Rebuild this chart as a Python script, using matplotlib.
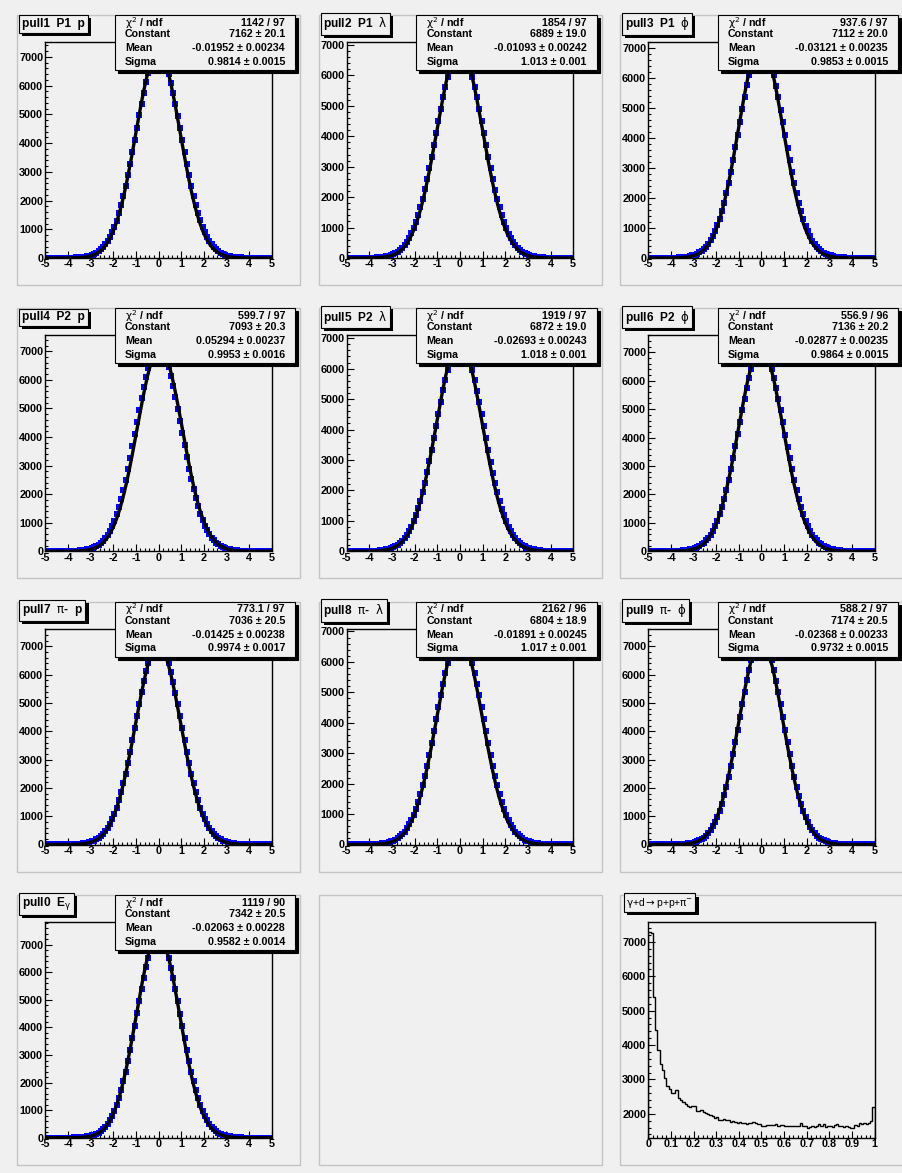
import numpy as np
import matplotlib.pyplot as plt
from matplotlib.patches import Rectangle
from matplotlib import patheffects
from matplotlib.ticker import MultipleLocator, FuncFormatter

W, H = 903, 1173
BG = "#f0f0f0"

plt.rcParams["font.family"] = ["Liberation Sans", "DejaVu Sans"]
plt.rcParams["font.weight"] = "bold"
plt.rcParams["axes.unicode_minus"] = False
# greek letters are drawn thin and upright, like the ROOT symbol font
plt.rcParams["mathtext.fontset"] = "custom"
plt.rcParams["mathtext.rm"] = "DejaVu Sans:weight=normal"
plt.rcParams["mathtext.sf"] = "DejaVu Sans:weight=normal"
plt.rcParams["mathtext.it"] = "DejaVu Sans:style=italic:weight=normal"
plt.rcParams["mathtext.bf"] = "DejaVu Sans:weight=bold"

# ---- data: pull histograms, 100 bins from -5 to 5 ----
pull1_counts = [
    1, 2, 2, 2, 3, 3, 4, 5, 6, 7,
    9, 11, 14, 18, 23, 30, 38, 50, 65, 85,
    110, 140, 185, 240, 300, 380, 470, 585, 725, 890,
    1081, 1305, 1559, 1845, 2162, 2508, 2881, 3276, 3690, 4114,
    4542, 4965, 5374, 5760, 6113, 6423, 6682, 6930, 7080, 7160,
    7140, 7060, 6910, 6670, 6400, 6095, 5745, 5360, 4950, 4530,
    4100, 3680, 3270, 2880, 2510, 2165, 1850, 1565, 1310, 1085,
    890, 725, 585, 470, 380, 300, 240, 185, 140, 110,
    85, 65, 50, 38, 30, 23, 18, 14, 11, 9,
    7, 6, 5, 4, 3, 3, 2, 2, 2, 1]
pull2_counts = [
    1, 1, 2, 2, 3, 3, 4, 5, 6, 7,
    9, 12, 15, 20, 27, 35, 46, 60, 78, 100,
    123, 160, 208, 267, 339, 427, 533, 659, 808, 982,
    1181, 1408, 1663, 1946, 2256, 2592, 2950, 3327, 3717, 4115,
    4513, 4905, 5281, 5635, 5956, 6238, 6473, 6630, 6720, 6760,
    6750, 6715, 6620, 6465, 6230, 5950, 5630, 5275, 4900, 4510,
    4110, 3710, 3320, 2945, 2590, 2250, 1940, 1660, 1405, 1180,
    980, 805, 655, 530, 425, 337, 265, 206, 158, 122,
    98, 77, 59, 45, 34, 26, 20, 15, 12, 9,
    7, 6, 5, 4, 3, 3, 2, 2, 1, 1]
pull3_counts = [
    1, 2, 2, 2, 3, 3, 4, 5, 6, 7,
    9, 11, 14, 18, 23, 30, 38, 50, 65, 86,
    111, 141, 186, 242, 302, 382, 472, 588, 728, 893,
    1085, 1310, 1562, 1848, 2165, 2510, 2884, 3278, 3692, 4116,
    4544, 4966, 5375, 5760, 6110, 6420, 6670, 6790, 6850, 6860,
    6840, 6790, 6660, 6660, 6405, 6090, 5740, 5355, 4945, 4525,
    4095, 3675, 3265, 2875, 2505, 2160, 1842, 1555, 1300, 1078,
    887, 722, 582, 468, 378, 298, 238, 183, 139, 109,
    84, 64, 49, 37, 29, 22, 17, 13, 10, 8,
    7, 6, 5, 4, 3, 3, 2, 2, 1, 1]
pull4_counts = [
    1, 1, 2, 2, 2, 3, 4, 4, 5, 6,
    8, 10, 13, 17, 22, 28, 36, 48, 62, 82,
    106, 135, 180, 233, 292, 372, 460, 574, 712, 876,
    1066, 1290, 1542, 1828, 2145, 2490, 2865, 3260, 3676, 4100,
    4530, 4955, 5366, 5755, 6110, 6422, 6690, 6950, 7110, 7190,
    7200, 7120, 6960, 6695, 6436, 6128, 5775, 5390, 4980, 4556,
    4128, 3702, 3290, 2894, 2520, 2174, 1855, 1568, 1313, 1089,
    896, 730, 590, 474, 384, 304, 243, 188, 142, 112,
    87, 66, 51, 39, 31, 24, 18, 14, 11, 9,
    7, 6, 5, 4, 3, 3, 2, 2, 2, 1]
pull5_counts = [
    1, 1, 2, 2, 3, 3, 4, 5, 6, 7,
    9, 12, 15, 20, 27, 35, 46, 60, 78, 100,
    124, 161, 209, 268, 340, 428, 534, 660, 810, 984,
    1183, 1410, 1665, 1948, 2258, 2594, 2952, 3329, 3719, 4117,
    4515, 4907, 5283, 5637, 5958, 6240, 6475, 6625, 6715, 6760,
    6745, 6705, 6615, 6460, 6225, 5945, 5625, 5272, 4897, 4506,
    4108, 3708, 3318, 2942, 2586, 2248, 1938, 1657, 1402, 1177,
    978, 803, 654, 529, 424, 336, 264, 206, 158, 121,
    97, 76, 58, 45, 34, 26, 20, 15, 12, 9,
    7, 6, 5, 4, 3, 3, 2, 2, 1, 1]
pull6_counts = [
    1, 2, 2, 2, 3, 3, 4, 5, 6, 7,
    9, 11, 14, 18, 23, 30, 38, 50, 65, 85,
    110, 140, 185, 240, 300, 380, 470, 585, 725, 890,
    1081, 1305, 1559, 1845, 2162, 2508, 2881, 3276, 3690, 4114,
    4542, 4965, 5374, 5760, 6113, 6423, 6700, 6990, 7150, 7240,
    7220, 7130, 6970, 6685, 6415, 6105, 5752, 5366, 4958, 4536,
    4108, 3685, 3272, 2878, 2505, 2160, 1843, 1557, 1303, 1079,
    888, 723, 583, 469, 379, 299, 239, 184, 139, 109,
    84, 64, 49, 37, 29, 22, 17, 13, 10, 8,
    7, 6, 5, 4, 3, 3, 2, 2, 2, 1]
pull7_counts = [
    1, 2, 2, 2, 3, 3, 4, 5, 6, 7,
    9, 11, 14, 18, 23, 30, 38, 50, 66, 86,
    111, 141, 186, 241, 301, 381, 471, 586, 726, 891,
    1082, 1306, 1560, 1846, 2163, 2509, 2882, 3277, 3691, 4115,
    4543, 4966, 5375, 5762, 6115, 6425, 6710, 7000, 7170, 7270,
    7250, 7150, 6985, 6700, 6420, 6110, 5757, 5371, 4962, 4540,
    4112, 3688, 3274, 2879, 2506, 2161, 1844, 1558, 1304, 1080,
    889, 724, 584, 469, 379, 299, 239, 184, 139, 109,
    84, 64, 49, 37, 29, 22, 17, 13, 10, 8,
    7, 6, 5, 4, 3, 3, 2, 2, 2, 1]
pull8_counts = [
    1, 1, 2, 2, 3, 3, 4, 5, 6, 7,
    9, 12, 15, 20, 27, 35, 46, 60, 78, 100,
    123, 160, 208, 267, 339, 427, 533, 659, 808, 982,
    1181, 1408, 1663, 1946, 2256, 2592, 2950, 3327, 3717, 4115,
    4513, 4905, 5281, 5635, 5956, 6238, 6473, 6635, 6725, 6760,
    6750, 6710, 6625, 6468, 6232, 5952, 5632, 5278, 4902, 4511,
    4112, 3714, 3324, 2947, 2589, 2253, 1943, 1661, 1406, 1179,
    981, 807, 657, 531, 426, 338, 266, 207, 159, 122,
    99, 77, 59, 46, 35, 27, 20, 15, 12, 9,
    7, 6, 5, 4, 3, 3, 2, 2, 1, 1]
pull9_counts = [
    1, 1, 1, 1, 2, 2, 3, 3, 4, 5,
    6, 8, 10, 13, 17, 22, 29, 38, 50, 65,
    85, 110, 145, 190, 245, 315, 400, 506, 637, 795,
    981, 1198, 1448, 1732, 2049, 2399, 2780, 3187, 3616, 4060,
    4510, 4958, 5393, 5805, 6184, 6518, 6798, 7020, 7180, 7270,
    7250, 7160, 7000, 6785, 6505, 6172, 5795, 5385, 4950, 4502,
    4052, 3609, 3181, 2775, 2395, 2045, 1729, 1445, 1196, 979,
    793, 635, 504, 398, 313, 244, 189, 144, 109, 84,
    64, 49, 37, 28, 21, 16, 12, 9, 7, 5,
    5, 4, 3, 3, 2, 2, 1, 1, 1, 1]
pull0_counts = [
    1, 1, 1, 1, 2, 2, 3, 3, 4, 5,
    6, 8, 10, 13, 17, 22, 29, 38, 50, 65,
    85, 110, 145, 190, 245, 315, 400, 506, 637, 795,
    981, 1198, 1448, 1732, 2049, 2399, 2780, 3187, 3616, 4060,
    4510, 4958, 5393, 5805, 6184, 6518, 6830, 7110, 7330, 7460,
    7440, 7310, 7090, 6815, 6505, 6172, 5795, 5385, 4950, 4502,
    4052, 3609, 3181, 2775, 2395, 2045, 1729, 1445, 1196, 979,
    793, 635, 504, 398, 313, 244, 189, 144, 109, 84,
    64, 49, 37, 28, 21, 16, 12, 9, 7, 5,
    5, 4, 3, 3, 2, 2, 1, 1, 1, 1]

pull_counts = [pull1_counts, pull2_counts, pull3_counts,
               pull4_counts, pull5_counts, pull6_counts,
               pull7_counts, pull8_counts, pull9_counts,
               pull0_counts]
pull_titles = [r"pull1  P1  p", r"pull2  P1  $\mathrm{\lambda}$", r"pull3  P1  $\mathrm{\phi}$",
               r"pull4  P2  p", r"pull5  P2  $\mathrm{\lambda}$", r"pull6  P2  $\mathrm{\phi}$",
               r"pull7  $\mathrm{\pi}$-  p", r"pull8  $\mathrm{\pi}$-  $\mathrm{\lambda}$",
               r"pull9  $\mathrm{\pi}$-  $\mathrm{\phi}$",
               r"pull0  E$_{\mathrm{\gamma}}$"]

# gaussian fit results shown in the stat boxes
fit_chi2 = ["1142 / 97", "1854 / 97", "937.6 / 97",
            "599.7 / 97", "1919 / 97", "556.9 / 96",
            "773.1 / 97", "2162 / 96", "588.2 / 97",
            "1119 / 90"]
fit_const = [7162, 6889, 7112, 7093, 6872, 7136, 7036, 6804, 7174, 7342]
fit_const_err = ["20.1", "19.0", "20.0", "20.3", "19.0", "20.2", "20.5", "18.9", "20.5", "20.5"]
fit_mean = [-0.01952, -0.01093, -0.03121, 0.05294, -0.02693,
            -0.02877, -0.01425, -0.01891, -0.02368, -0.02063]
fit_mean_err = ["0.00234", "0.00242", "0.00235", "0.00237", "0.00243",
                "0.00235", "0.00238", "0.00245", "0.00233", "0.00228"]
fit_sigma = [0.9814, 1.013, 0.9853, 0.9953, 1.018, 0.9864, 0.9974, 1.017, 0.9732, 0.9582]
fit_sigma_err = ["0.0015", "0.001", "0.0015", "0.0016", "0.001",
                 "0.0015", "0.0017", "0.001", "0.0015", "0.0014"]

# last pad: 100 bins from 0 to 1
ratio_title = r"$\mathrm{\gamma}$+d$\rightarrow$p+p+$\mathrm{\pi}^{-}$"
ratio_counts = [
    7300, 7250, 5400, 4450, 3870, 3450, 3280, 3050, 2800, 2720,
    2620, 2600, 2680, 2450, 2400, 2330, 2280, 2230, 2200, 2220,
    2230, 2070, 2070, 2100, 2050, 2020, 1990, 1970, 1950, 1880,
    1920, 1830, 1830, 1850, 1820, 1810, 1760, 1800, 1760, 1740,
    1760, 1720, 1740, 1700, 1730, 1720, 1760, 1730, 1700, 1700,
    1650, 1640, 1670, 1670, 1680, 1670, 1710, 1650, 1680, 1680,
    1640, 1660, 1640, 1650, 1650, 1660, 1650, 1740, 1660, 1640,
    1600, 1630, 1640, 1620, 1650, 1710, 1660, 1710, 1620, 1660,
    1640, 1620, 1670, 1700, 1660, 1640, 1630, 1650, 1620, 1590,
    1600, 1680, 1640, 1720, 1710, 1720, 1700, 1740, 1790, 2200]


def fx(x):
    return x / W


def fy(y):
    return 1 - y / H


def pad_rect(col, row):
    return 17 + 301.5 * col, 15 + 293.25 * row, 283, 270


def draw_pad(fig, col, row):
    x0, y0, w, h = pad_rect(col, row)
    fig.add_artist(Rectangle((fx(x0), fy(y0 + h)), w / W, h / H, transform=fig.transFigure,
                             fill=False, ec="#c4c4c4", lw=1.0))
    return x0, y0, w, h


def frame_axes(fig, x0, y0, w, h):
    left, right = x0 + 0.1 * w, x0 + 0.9 * w
    top, bottom = y0 + 0.1 * h, y0 + 0.9 * h
    ax = fig.add_axes([fx(left), fy(bottom), (right - left) / W, (bottom - top) / H])
    ax.set_facecolor(BG)
    for sp in ax.spines.values():
        sp.set_linewidth(1.0)
        sp.set_color("black")
    ax.tick_params(which="both", direction="in", top=False, right=False,
                   labelsize=7.8, width=0.8, color="black")
    ax.tick_params(which="major", length=4.7)
    ax.tick_params(which="minor", length=2.4)
    ax.tick_params(axis="x", pad=1.0)
    ax.tick_params(axis="y", pad=1.5)
    return ax


def root_ylim(values):
    lo, hi = min(values), max(values)
    margin = 0.05 * (hi - lo)
    ymin = lo - margin
    if ymin < 0 or lo == 0:
        ymin = 0
    return ymin, hi + margin


def shadow_box(fig, x, y, w, h, z=5):
    fig.add_artist(Rectangle((fx(x + 3), fy(y + h + 3)), w / W, h / H, transform=fig.transFigure,
                             fc="black", ec="black", lw=0.8, zorder=z))
    fig.add_artist(Rectangle((fx(x), fy(y + h)), w / W, h / H, transform=fig.transFigure,
                             fc=BG, ec="black", lw=0.8, zorder=z + 0.1))


def title_box(fig, x, y, text, size, weight):
    t = fig.text(fx(x), fy(y), text, fontsize=size, fontweight=weight, ha="left", va="center",
                 zorder=8,
                 bbox=dict(boxstyle="square,pad=0.22", fc=BG, ec="black", lw=0.8))
    t.get_bbox_patch().set_path_effects([
        patheffects.SimplePatchShadow(offset=(2.2, -2.2), shadow_rgbFace="black", alpha=1.0),
        patheffects.Normal()])
    return t


fig = plt.figure(figsize=(W / 100, H / 100), dpi=100, facecolor=BG)

centers = np.linspace(-4.95, 4.95, 100)
xs = np.linspace(-5, 5, 500)

for i in range(10):
    col, row = i % 3, i // 3
    x0, y0, w, h = draw_pad(fig, col, row)
    ax = frame_axes(fig, x0, y0, w, h)
    counts = pull_counts[i]
    ax.plot(centers, counts, "s", color="#0000ff", ms=4.4, mew=0, zorder=2)
    fit_y = fit_const[i] * np.exp(-0.5 * ((xs - fit_mean[i]) / fit_sigma[i]) ** 2)
    ax.plot(xs, fit_y, color="black", lw=2.4, zorder=3)
    ax.set_xlim(-5, 5)
    ax.set_ylim(*root_ylim(counts))
    ax.xaxis.set_major_locator(MultipleLocator(1))
    ax.xaxis.set_minor_locator(MultipleLocator(0.2))
    ax.yaxis.set_major_locator(MultipleLocator(1000))
    ax.yaxis.set_minor_locator(MultipleLocator(200))

    title_box(fig, x0 + 5, y0 + 9, pull_titles[i], 8.6, "bold")

    shadow_box(fig, x0 + 98, y0, 180, 55)
    lx, rx = x0 + 108, x0 + 268
    rows = [(r"$\mathrm{\chi}^{2}$ / ndf", fit_chi2[i], 8),
            ("Constant", f"{fit_const[i]} \u00b1 {fit_const_err[i]}", 19),
            ("Mean", f"{fit_mean[i]} \u00b1 {fit_mean_err[i]}", 33),
            ("Sigma", f"{fit_sigma[i]} \u00b1 {fit_sigma_err[i]}", 47)]
    for label, value, dy in rows:
        fig.text(fx(lx), fy(y0 + dy), label, fontsize=7.7, fontweight="bold",
                 ha="left", va="center", zorder=7)
        fig.text(fx(rx), fy(y0 + dy), value, fontsize=7.7, fontweight="bold",
                 ha="right", va="center", zorder=7)

# empty pad
draw_pad(fig, 1, 3)

# last pad
x0, y0, w, h = draw_pad(fig, 2, 3)
ax = frame_axes(fig, x0, y0, w, h)
edges = np.linspace(0, 1, len(ratio_counts) + 1)
ymin, ymax = root_ylim(ratio_counts)
ax.stairs(ratio_counts, edges, color="black", lw=1.0, baseline=ymin)
ax.set_xlim(0, 1)
ax.set_ylim(ymin, ymax)
ax.xaxis.set_major_locator(MultipleLocator(0.1))
ax.xaxis.set_minor_locator(MultipleLocator(0.02))
ax.xaxis.set_major_formatter(FuncFormatter(lambda v, p: f"{v:g}"))
ax.yaxis.set_major_locator(MultipleLocator(1000))
ax.yaxis.set_minor_locator(MultipleLocator(200))
title_box(fig, x0 + 6, y0 + 8, ratio_title, 7.4, "normal")

fig.savefig("out.png", dpi=100, facecolor=BG)
